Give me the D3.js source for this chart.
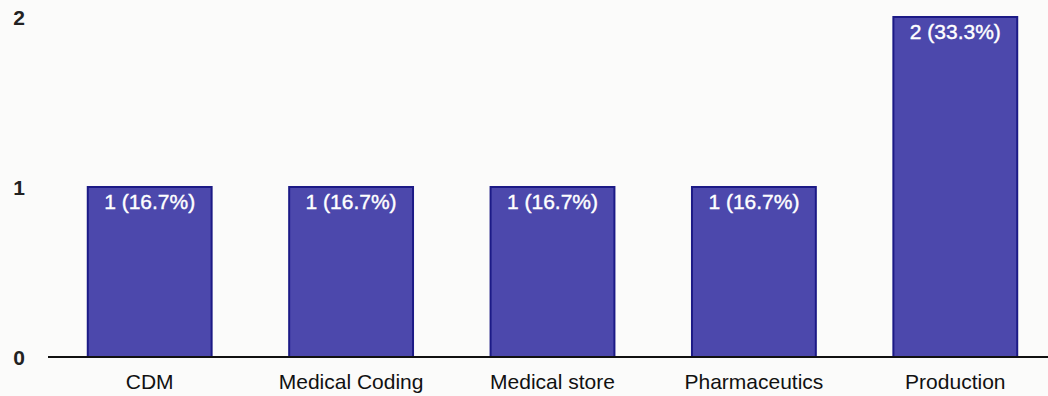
<!DOCTYPE html>
<html>
<head>
<meta charset="utf-8">
<script src="https://cdn.jsdelivr.net/npm/d3@7"></script>
<style>
  html, body { margin: 0; padding: 0; background: #fbfbfa; }
  svg { display: block; }
  text { font-family: "Liberation Sans", Arial, sans-serif; }
</style>
</head>
<body>
<svg id="chart" width="1048" height="396"></svg>
<script>
// Count of respondents per field
const categories = ["CDM", "Medical Coding", "Medical store", "Pharmaceutics", "Production"];
const counts = [1, 1, 1, 1, 2];
const percents = ["16.7%", "16.7%", "16.7%", "16.7%", "33.3%"];
const yTicks = [0, 1, 2];

const svg = d3.select("#chart");

const x = d3.scaleBand()
  .domain(categories)
  .range([49, 1056])
  .paddingInner(0.385)
  .paddingOuter(0.1925);

const y = d3.scaleLinear()
  .domain([0, 2])
  .range([357, 17]);

const data = categories.map((c, i) => ({ cat: c, value: counts[i], pct: percents[i] }));

// Bars
svg.append("g")
  .selectAll("rect")
  .data(data)
  .join("rect")
  .attr("x", d => x(d.cat))
  .attr("y", d => y(d.value))
  .attr("width", x.bandwidth())
  .attr("height", d => y(0) - y(d.value))
  .attr("fill", "#4c48ac")
  .attr("stroke", "#1c1a86")
  .attr("stroke-width", 2);

// Value labels inside the bar tops
svg.append("g")
  .selectAll("text")
  .data(data)
  .join("text")
  .attr("x", d => x(d.cat) + x.bandwidth() / 2)
  .attr("y", d => y(d.value) + 22)
  .attr("text-anchor", "middle")
  .attr("fill", "#ffffff")
  .attr("font-size", 21)
  .attr("stroke", "#ffffff")
  .attr("stroke-width", 0.4)
  .text(d => `${d.value} (${d.pct})`);

// Baseline
svg.append("line")
  .attr("x1", 48).attr("x2", 1048)
  .attr("y1", y(0)).attr("y2", y(0))
  .attr("stroke", "#111")
  .attr("stroke-width", 2);

// Y axis tick labels
const yAxis = d3.axisLeft(y).tickValues(yTicks).tickSize(0).tickPadding(0).tickFormat(d3.format("d"));
const gy = svg.append("g").attr("transform", "translate(25,0)").call(yAxis);
gy.select(".domain").remove();
gy.selectAll("text")
  .attr("font-size", 21)
  .attr("font-weight", "bold")
  .attr("fill", "#222")
  .attr("dy", "0.38em")
  .style("font-family", "'Liberation Sans', Arial, sans-serif");

// X axis category labels
const xAxis = d3.axisBottom(x).tickSize(0).tickPadding(0);
const gx = svg.append("g").attr("transform", `translate(0,${y(0) + 17})`).call(xAxis);
gx.select(".domain").remove();
gx.selectAll("text")
  .attr("font-size", 21)
  .attr("fill", "#111")
  .style("font-family", "'Liberation Sans', Arial, sans-serif");
</script>
</body>
</html>
